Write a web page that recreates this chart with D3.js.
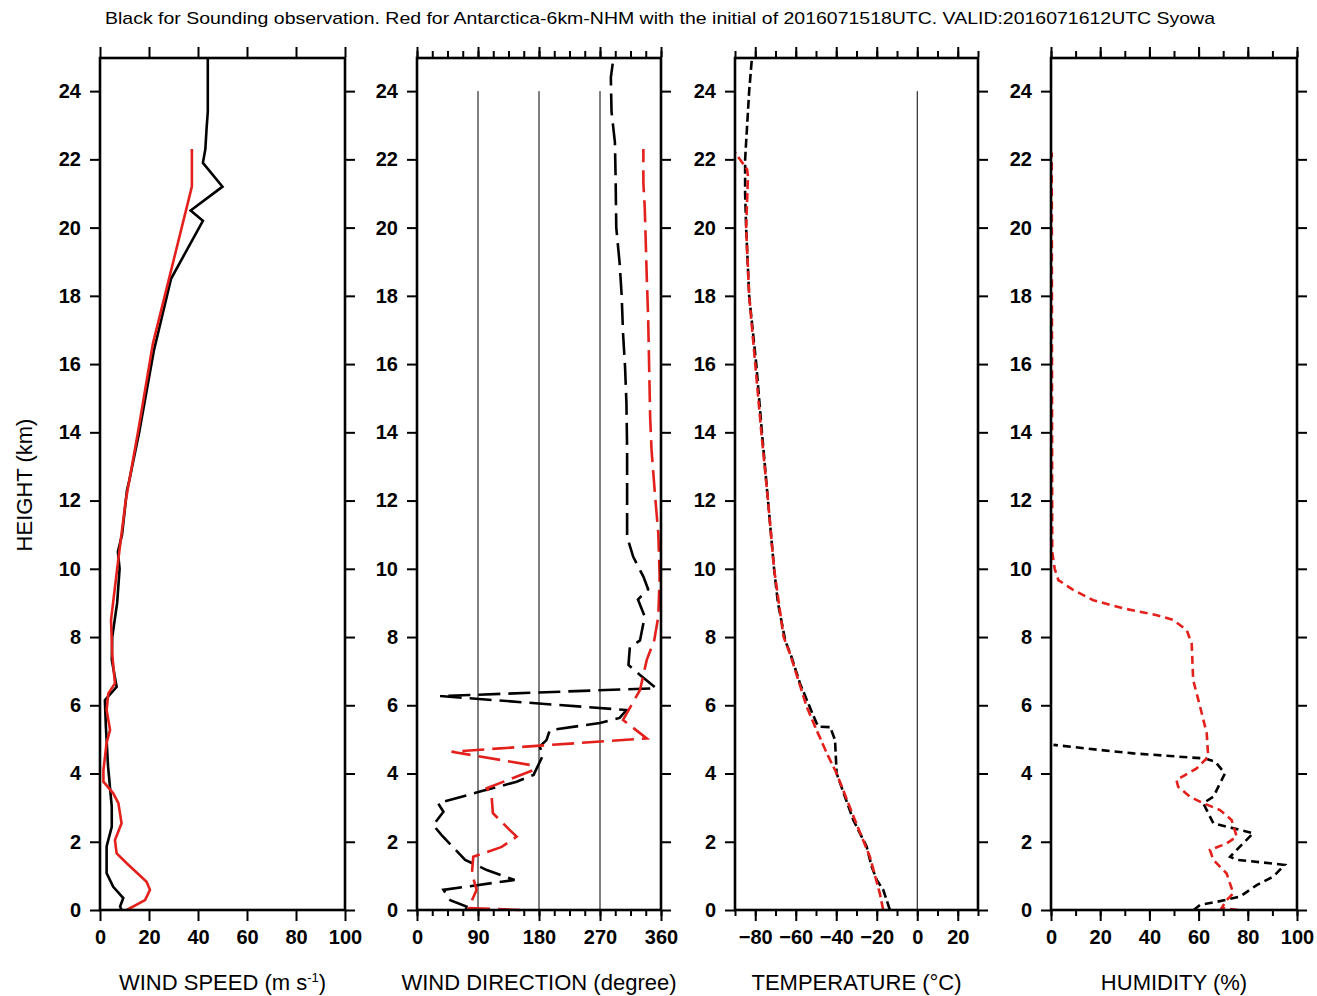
<!DOCTYPE html>
<html>
<head>
<meta charset="utf-8">
<script src="https://cdn.jsdelivr.net/npm/d3@7"></script>
<style>
  body { margin: 0; background: #fff; }
  text { font-family: "Liberation Sans Narrow", "Liberation Sans", Arial, sans-serif; }
  .tick text { font-weight: bold; font-size: 20px; fill: #000; }
  .tick line { stroke: #000; stroke-width: 2; }
</style>
</head>
<body>
<div id="chart"></div>
<script>
// ---- data (height km / value) ----
var spdObsH = [0, 0.1, 0.35, 0.68, 1.08, 1.86, 2.44, 3.03, 4.2, 5.37, 6.15, 6.54, 7.33, 8, 9, 10, 10.5, 11, 12.3, 12.6, 14, 16, 16.4, 18.5, 20.2, 20.5, 21.2, 21.9, 22.3, 22.9, 23.4, 25];
var spdObs  = [8.8, 8.2, 9.5, 5.4, 2.7, 2.7, 4.8, 4.8, 3.3, 2.4, 2, 6.8, 4.8, 5, 7, 8, 7.3, 9, 11, 12, 16, 21, 22, 29, 42, 37, 50, 42, 43, 43.5, 44, 44];
var spdNhmH = [0, 0.29, 0.59, 0.83, 1.37, 1.66, 2.05, 2.54, 3.13, 3.42, 3.76, 4.1, 4.9, 5.28, 5.86, 6.35, 6.64, 7.5, 8.5, 10, 12, 14, 16.6, 21.2, 22.3];
var spdNhm  = [10.9, 18.4, 20.4, 19, 10.9, 6.8, 6.1, 8.8, 7.5, 5.4, 1.4, 1.4, 2.7, 4.1, 2.7, 3.4, 6.1, 5, 4.5, 7, 10.5, 15.5, 21.6, 37.5, 37.5];

var dirObsH = [0, 0.1, 0.29, 0.59, 0.88, 1.17, 1.47, 2.2, 2.49, 2.88, 3.13, 3.47, 3.76, 3.96, 4.54, 4.79, 4.98, 5.27, 5.48, 5.63, 5.86, 6.27, 6.5, 6.89, 7.18, 7.7, 7.9, 8.6, 9.1, 9.4, 9.77, 10.35, 10.94, 13.5, 14.85, 15.9, 16.9, 18, 18.95, 20, 21.5, 22.5, 23.4, 24.4, 25];
var dirObs  = [72, 73, 49, 39, 144, 103, 71, 36, 24, 39, 31, 93, 147, 172, 186, 181, 191, 196, 270, 299, 309, 34, 353, 329, 312, 314, 329, 336, 326, 341, 334, 319, 310, 310, 309, 307, 304, 302, 299, 294, 293, 292, 287, 286, 290];
var dirNhmH = [0, 0.06, 0.59, 1.07, 1.56, 1.85, 2.15, 2.34, 2.84, 3.35, 3.57, 4.1, 4.25, 4.64, 5.03, 5.57, 6.45, 7.33, 7.9, 8.6, 9.77, 11.04, 12.2, 13.5, 14.45, 17.4, 18.55, 20.6, 21.3, 22.3];
var dirNhm  = [152, 76, 88, 81, 83, 125, 147, 137, 112, 110, 103, 172, 167, 51, 339, 304, 329, 339, 350, 356, 358, 356, 351, 346, 344, 341, 339, 336, 334, 334];

var tmpObsH = [0, 0.59, 0.88, 1.27, 1.86, 2.64, 3.32, 4, 4.98, 5.36, 5.37, 5.47, 6.05, 6.64, 7.4, 7.9, 9, 10, 12, 14, 16, 18, 20, 21, 22, 23, 24, 25];
var tmpObs  = [-13.5, -16.8, -20, -22.5, -25, -31.6, -35.7, -39.8, -40.6, -43, -48, -49.7, -53.8, -57.9, -62, -65.2, -68.8, -70.7, -73.7, -76.7, -79.5, -83, -84.5, -85, -85, -84, -83, -81.6];
var tmpNhmH = [0, 0.49, 1.56, 2.64, 4, 4.6, 5.27, 5.96, 7.5, 8, 10, 12, 14, 16, 18, 20, 21.5, 21.7, 22.2];
var tmpNhm  = [-16.8, -18.5, -23.4, -30.8, -39.8, -44.7, -49.7, -54.6, -62.8, -66, -70.7, -73.7, -77, -80, -83, -84.5, -83.6, -84, -90];

var humObsH = [0, 0.15, 0.24, 0.39, 0.73, 0.98, 1.32, 1.37, 1.47, 1.56, 1.86, 2.25, 2.54, 3.13, 3.32, 4, 4.35, 4.44, 4.59, 4.69, 4.84];
var humObs  = [58, 60.6, 67.4, 76.8, 83.6, 90.4, 95, 89, 75.5, 72.8, 76.8, 82.2, 66, 61.9, 66, 70.7, 66.7, 62.6, 33.5, 20, 1];
var humNhmH = [0, 0.06, 0.29, 0.49, 1.07, 1.47, 1.76, 1.95, 2.15, 2.64, 2.93, 3.13, 3.32, 3.61, 3.81, 4.15, 4.49, 5.18, 5.96, 6.74, 7.8, 8.2, 8.5, 8.64, 8.84, 9.08, 9.38, 9.67, 10, 10.5, 22.2];
var humNhm  = [76, 69.4, 71.4, 74.1, 71.4, 66, 64.6, 71.4, 75.5, 73.4, 68.7, 61.9, 56.5, 51.7, 51, 59.2, 63.9, 63.3, 60.6, 57.8, 57.2, 55.2, 49.7, 43, 29.4, 17.2, 9, 3, 1.5, 0.5, 0.3];

var heightTicks = d3.range(0, 25, 2);

var W = 1317, H = 996;
var plotTop = 57, plotBottom = 910;
var svg = d3.select("#chart").append("svg")
    .attr("width", W)
    .attr("height", H);

var y = d3.scaleLinear().domain([0, 25]).range([plotBottom, plotTop]);

function zip(hs, vs) { return hs.map(function(h, i) { return {h: h, v: vs[i]}; }); }

var panels = [
  {x0: 100, x1: 345, domain: [0, 100], major: d3.range(0, 101, 20), minor: [],
   labels: d3.range(0, 101, 20), refs: [],
   obs: zip(spdObsH, spdObs), nhm: zip(spdNhmH, spdNhm), dash: null},
  {x0: 417, x1: 661, domain: [0, 360], major: [0, 90, 180, 270, 360], minor: d3.range(0, 361, 22.5),
   labels: [0, 90, 180, 270, 360], refs: [90, 180, 270],
   obs: zip(dirObsH, dirObs), nhm: zip(dirNhmH, dirNhm), dash: "22,8"},
  {x0: 735, x1: 978, domain: [-90, 30], major: d3.range(-80, 21, 20), minor: d3.range(-90, 31, 10),
   labels: d3.range(-80, 21, 20), refs: [0],
   obs: zip(tmpObsH, tmpObs), nhm: zip(tmpNhmH, tmpNhm), dash: "9,4"},
  {x0: 1051, x1: 1297, domain: [0, 100], major: d3.range(0, 101, 20), minor: d3.range(0, 101, 10),
   labels: d3.range(0, 101, 20), refs: [],
   obs: zip(humObsH, humObs), nhm: zip(humNhmH, humNhm), dash: "8,5"}
];
var titles = ["WIND SPEED (m s", "WIND DIRECTION (degree)", "TEMPERATURE (\u00B0C)", "HUMIDITY (%)"];

panels.forEach(function(p, pi) {
  var x = d3.scaleLinear().domain(p.domain).range([p.x0, p.x1]);
  var g = svg.append("g");

  // minor ticks
  if (p.minor.length) {
    g.append("g").attr("transform", "translate(0," + plotBottom + ")")
      .call(d3.axisBottom(x).tickValues(p.minor).tickSize(6).tickFormat(""));
    g.append("g").attr("transform", "translate(0," + plotTop + ")")
      .call(d3.axisTop(x).tickValues(p.minor).tickSize(6).tickFormat(""));
  }
  // major ticks, labels at the bottom only
  g.append("g").attr("transform", "translate(0," + plotBottom + ")")
    .call(d3.axisBottom(x).tickValues(p.major).tickSize(11).tickPadding(9)
      .tickFormat(function(d) { return p.labels.indexOf(d) >= 0 ? d3.format("d")(d) : ""; }));
  g.append("g").attr("transform", "translate(0," + plotTop + ")")
    .call(d3.axisTop(x).tickValues(p.major).tickSize(10).tickFormat(""));

  g.append("g").attr("transform", "translate(" + p.x0 + ",0)")
    .call(d3.axisLeft(y).tickValues(heightTicks).tickSize(10).tickPadding(9).tickFormat(d3.format("d")));
  g.append("g").attr("transform", "translate(" + p.x1 + ",0)")
    .call(d3.axisRight(y).tickValues(heightTicks).tickSize(10).tickFormat(""));

  g.selectAll(".domain").remove();

  // reference lines
  p.refs.forEach(function(r) {
    g.append("line")
      .attr("x1", x(r)).attr("x2", x(r))
      .attr("y1", y(0)).attr("y2", y(24))
      .attr("stroke", "#000").attr("stroke-width", 1);
  });

  var line = d3.line()
    .x(function(d) { return x(d.v); })
    .y(function(d) { return y(d.h); });

  g.append("path").datum(p.obs)
    .attr("d", line)
    .attr("fill", "none").attr("stroke", "#000").attr("stroke-width", 2.6)
    .attr("stroke-dasharray", p.dash);
  g.append("path").datum(p.nhm)
    .attr("d", line)
    .attr("fill", "none").attr("stroke", "#e3201b").attr("stroke-width", 2.6)
    .attr("stroke-dasharray", p.dash);

  // frame
  g.append("rect")
    .attr("x", p.x0).attr("y", plotTop + 1)
    .attr("width", p.x1 - p.x0).attr("height", plotBottom - plotTop - 1)
    .attr("fill", "none").attr("stroke", "#000").attr("stroke-width", 2.6);

  // axis title
  var t = svg.append("text")
    .attr("x", (p.x0 + p.x1) / 2)
    .attr("y", 990)
    .attr("text-anchor", "middle")
    .style("font-size", "22px")
    .text(titles[pi]);
  if (pi === 0) {
    t.append("tspan").attr("dy", -8).style("font-size", "13px").text("-1");
    t.append("tspan").attr("dy", 8).text(")");
  }
});

// y axis label
svg.append("text")
  .attr("transform", "translate(32,485) rotate(-90)")
  .attr("text-anchor", "middle")
  .style("font-size", "22px")
  .text("HEIGHT (km)");

// title
svg.append("text")
  .attr("x", 105)
  .attr("y", 24)
  .attr("textLength", 1110)
  .attr("lengthAdjust", "spacingAndGlyphs")
  .style("font-size", "17px")
  .text("Black for Sounding observation. Red for Antarctica-6km-NHM with the initial of 2016071518UTC.  VALID:2016071612UTC   Syowa");
</script>
</body>
</html>
